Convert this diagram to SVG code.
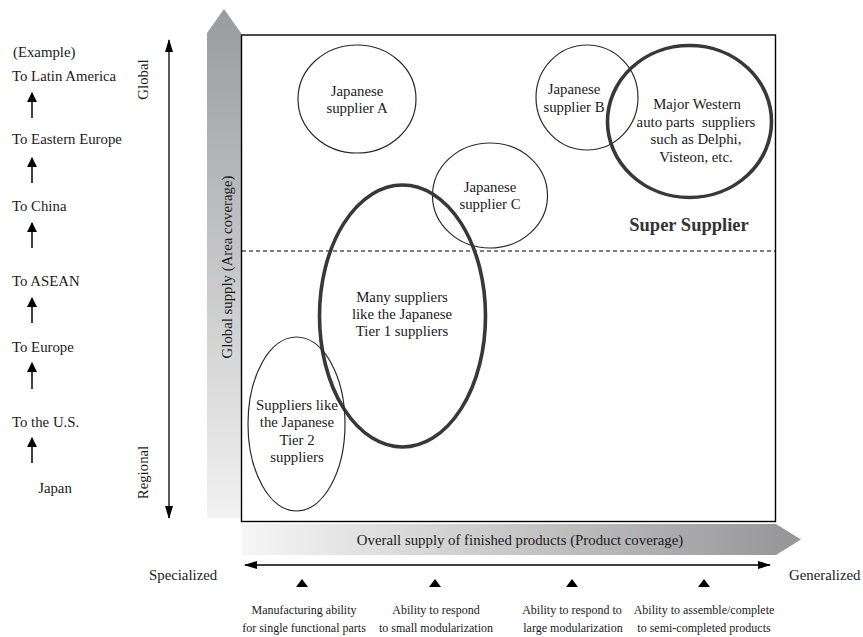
<svg xmlns="http://www.w3.org/2000/svg" width="863" height="637" viewBox="0 0 863 637">
  <style>
    text { font-family: "Liberation Serif"; fill: #1a1a1a; }
    .lbl { font-size: 14.8px; }
    .mid { text-anchor: middle; }
    .small { font-size: 12px; text-anchor: middle; }
    .thin { fill: none; stroke: #2a2a2a; stroke-width: 1.2; }
    .thick { fill: none; stroke: #383838; stroke-width: 3.6; }
    .tri { fill: #000; }
  </style>
  <defs>
    <linearGradient id="gradV" x1="0" y1="0" x2="0" y2="1">
      <stop offset="0" stop-color="#9a9b9d"/>
      <stop offset="1" stop-color="#f2f2f2"/>
    </linearGradient>
    <linearGradient id="gradH" x1="0" y1="0" x2="1" y2="0">
      <stop offset="0" stop-color="#f6f6f6"/>
      <stop offset="1" stop-color="#959597"/>
    </linearGradient>
    <marker id="head" viewBox="0 0 10 10" refX="9" refY="5" markerWidth="10" markerHeight="10" markerUnits="userSpaceOnUse" orient="auto-start-reverse">
      <path d="M0,0 L10,5 L0,10 z" fill="#000"/>
    </marker>
    <marker id="headBig" viewBox="0 0 13 8" refX="12" refY="4" markerWidth="13" markerHeight="8" markerUnits="userSpaceOnUse" orient="auto-start-reverse">
      <path d="M0,0 L13,4 L0,8 z" fill="#000"/>
    </marker>
  </defs>

  <!-- broad shaded axis arrows -->
  <g id="area-axis-bar">
    <polygon points="207,33 224,9 241,33 241,518 207,518" fill="url(#gradV)"/>
    <text class="lbl mid" transform="translate(232,267) rotate(-90)">Global supply (Area coverage)</text>
  </g>
  <g id="product-axis-bar">
    <polygon points="242,524 776,524 801,539.5 776,555 242,555" fill="url(#gradH)"/>
    <text class="lbl mid" x="520" y="545">Overall supply of finished products (Product coverage)</text>
  </g>

  <!-- chart frame and divider -->
  <g id="frame">
    <rect x="241.5" y="35" width="534" height="486.5" fill="#fff" stroke="#000" stroke-width="1.4"/>
    <line x1="242" y1="251" x2="775" y2="251" stroke="#000" stroke-width="1" stroke-dasharray="4 3"/>
  </g>

  <!-- supplier groups -->
  <g id="supplier-a">
    <ellipse class="thin" cx="357" cy="99" rx="59" ry="54"/>
    <text class="lbl mid" x="357" y="96">Japanese</text>
    <text class="lbl mid" x="357" y="113">supplier A</text>
  </g>
  <g id="supplier-b">
    <ellipse class="thin" cx="587" cy="97.5" rx="51" ry="52.5"/>
    <text class="lbl mid" x="574" y="94">Japanese</text>
    <text class="lbl mid" x="574" y="112">supplier B</text>
  </g>
  <g id="supplier-c">
    <ellipse class="thin" cx="490" cy="195.5" rx="57.5" ry="52.5"/>
    <text class="lbl mid" x="490" y="192">Japanese</text>
    <text class="lbl mid" x="490" y="209">supplier C</text>
  </g>
  <g id="western-suppliers">
    <ellipse class="thick" cx="689.5" cy="121.5" rx="82" ry="76"/>
    <text class="lbl mid" x="697" y="109">Major Western</text>
    <text class="lbl mid" x="696" y="127" xml:space="preserve">auto parts  suppliers</text>
    <text class="lbl mid" x="696" y="144">such as Delphi,</text>
    <text class="lbl mid" x="696" y="162">Visteon, etc.</text>
  </g>
  <g id="super-supplier">
    <text x="689" y="231" text-anchor="middle" font-size="18.5" font-weight="bold" style="fill:#333">Super Supplier</text>
  </g>
  <g id="tier1-suppliers">
    <ellipse class="thick" cx="402.5" cy="316" rx="83" ry="131"/>
    <text class="lbl mid" x="402" y="302">Many suppliers</text>
    <text class="lbl mid" x="402" y="319">like the Japanese</text>
    <text class="lbl mid" x="402" y="336">Tier 1 suppliers</text>
  </g>
  <g id="tier2-suppliers">
    <ellipse class="thin" cx="296.5" cy="424" rx="48.5" ry="87"/>
    <text class="lbl mid" x="297" y="410">Suppliers like</text>
    <text class="lbl mid" x="297" y="427">the Japanese</text>
    <text class="lbl mid" x="297" y="445">Tier 2</text>
    <text class="lbl mid" x="297" y="462">suppliers</text>
  </g>

  <!-- expansion path example -->
  <g id="expansion-path">
    <text class="lbl" x="13" y="57">(Example)</text>
    <text class="lbl" x="12" y="81">To Latin America</text>
    <text class="lbl" x="12" y="144">To Eastern Europe</text>
    <text class="lbl" x="12" y="211">To China</text>
    <text class="lbl" x="12" y="286">To ASEAN</text>
    <text class="lbl" x="12" y="352">To Europe</text>
    <text class="lbl" x="12" y="427">To the U.S.</text>
    <text class="lbl mid" x="55" y="493">Japan</text>
  </g>

  <!-- scale labels -->
  <g id="scale-labels">
    <text class="lbl mid" transform="translate(148,79.5) rotate(-90)">Global</text>
    <text class="lbl mid" transform="translate(148,472.5) rotate(-90)">Regional</text>
    <text class="lbl" x="149" y="580">Specialized</text>
    <text class="lbl" x="789" y="580">Generalized</text>
  </g>

  <!-- capability markers -->
  <g id="capabilities">
    <polygon class="tri" points="296,587 302,579 308,587"/>
    <polygon class="tri" points="429,587 435,579 441,587"/>
    <polygon class="tri" points="566,587 572,579 578,587"/>
    <polygon class="tri" points="698,587 704,579 710,587"/>
    <text class="small" x="304" y="614">Manufacturing ability</text>
    <text class="small" x="304" y="632">for single functional parts</text>
    <text class="small" x="436" y="614">Ability to respond</text>
    <text class="small" x="436" y="632">to small modularization</text>
    <text class="small" x="572" y="614">Ability to respond to</text>
    <text class="small" x="573" y="632">large modularization</text>
    <text class="small" x="704" y="614">Ability to assemble/complete</text>
    <text class="small" x="704" y="632">to semi-completed products</text>
  </g>

  <!-- connectors -->
  <g id="connectors">
    <line x1="169" y1="40" x2="169" y2="518" stroke="#000" stroke-width="1.3" marker-start="url(#headBig)" marker-end="url(#headBig)"/>
    <line x1="245" y1="565" x2="770" y2="565" stroke="#000" stroke-width="1.3" marker-start="url(#headBig)" marker-end="url(#headBig)"/>
    <line x1="32" y1="118" x2="32" y2="93" stroke="#000" stroke-width="1.5" marker-end="url(#head)"/>
    <line x1="32" y1="183" x2="32" y2="158" stroke="#000" stroke-width="1.5" marker-end="url(#head)"/>
    <line x1="32" y1="248" x2="32" y2="223" stroke="#000" stroke-width="1.5" marker-end="url(#head)"/>
    <line x1="32" y1="323" x2="32" y2="298" stroke="#000" stroke-width="1.5" marker-end="url(#head)"/>
    <line x1="32" y1="389" x2="32" y2="363" stroke="#000" stroke-width="1.5" marker-end="url(#head)"/>
    <line x1="32" y1="463" x2="32" y2="438" stroke="#000" stroke-width="1.5" marker-end="url(#head)"/>
  </g>
</svg>
